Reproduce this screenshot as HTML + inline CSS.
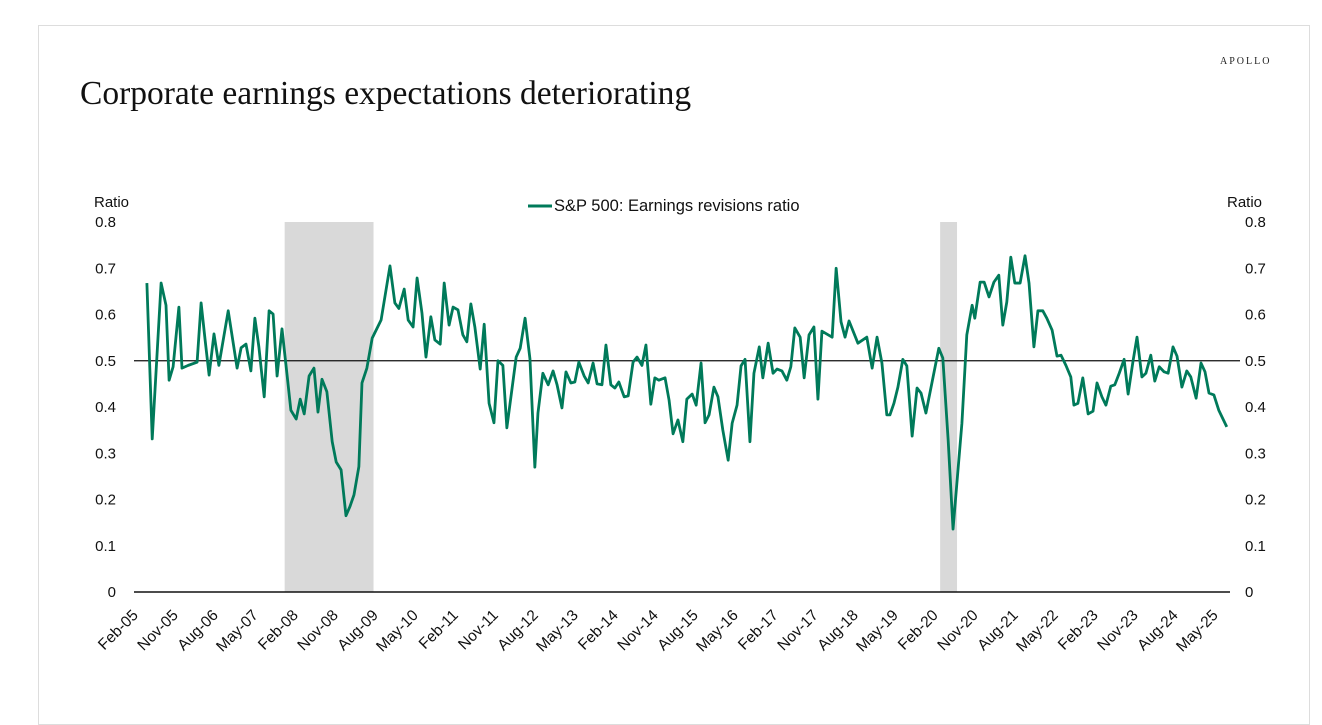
<!DOCTYPE html>
<html><head><meta charset="utf-8"><style>
body{margin:0;background:#fff;width:1322px;height:692px;overflow:hidden;font-family:"Liberation Sans",sans-serif}
#card{position:absolute;left:38px;top:25px;width:1272px;height:700px;border:1px solid #ddd;box-sizing:border-box}
</style></head><body>
<div id="card"></div>
<svg id="chart" width="1322" height="692" style="position:absolute;left:0;top:0">
<text x="1220" y="64" font-family="Liberation Serif, serif" font-size="10" letter-spacing="2" fill="#222">APOLLO</text>
<text x="80" y="104" font-family="Liberation Serif, serif" font-size="33.5" fill="#111">Corporate earnings expectations deteriorating</text>
<text x="94" y="207" font-size="15" fill="#111">Ratio</text>
<text x="1227" y="207" font-size="15" fill="#111">Ratio</text>
<line x1="528" y1="206" x2="552" y2="206" stroke="#007a5a" stroke-width="3"/>
<text x="554" y="211" font-size="16.5" fill="#111">S&amp;P 500: Earnings revisions ratio</text>
<g id="g"></g>
</svg>
<script>
const months=[0.2,1.4,3.4,4.5,5.2,6.1,7.4,8.1,9.5,11.5,12.4,13.3,14.2,15.3,16.4,18.5,20.5,21.4,22.5,23.6,24.5,25.4,26.6,27.7,28.6,29.5,30.6,31.7,32.6,33.8,34.7,35.6,36.7,37.8,38.7,39.6,40.7,41.9,42.8,43.9,45,45.9,46.8,47.9,48.6,49.7,50.9,52.9,54.9,56,56.9,58.1,59,60.1,61,62.1,63,64.1,65,66.2,67.1,68.2,69.1,70.2,71.3,72.2,73.1,74,75.2,76.1,77.2,78.3,79.2,80.3,81.2,83.3,84.2,85.3,86.4,87.5,88.2,89.3,90.5,91.6,92.5,93.6,94.5,95.6,96.5,97.4,98.6,99.5,100.6,101.5,102.6,103.5,104.6,105.5,106.4,107.6,108.5,109.6,110.5,111.6,112.5,113.6,114.5,115.4,116.8,117.7,118.6,119.7,120.8,121.7,122.9,123.8,124.9,125.8,126.7,127.8,128.7,129.8,131,131.9,133,133.9,134.8,135.9,136.8,138,138.8,140,141.1,142,143.1,144.2,145.1,146,147.2,148.1,149.2,150.3,151.2,152.1,154.4,155.3,156.4,157.3,158.2,160.2,162.2,163.4,164.5,165.6,166.7,167.4,168.3,169.2,170.3,171.2,172.4,173.5,174.4,175.5,178.4,179.3,180.5,181.6,183.6,184.7,185.9,186.5,187.7,188.6,189.7,190.8,191.9,192.8,193.7,194.6,195.5,196.7,197.8,198.7,199.8,200.7,201.8,202.7,203.9,205,205.9,207,208.1,208.8,209.7,210.8,212,213.1,214,215.1,216,217.1,218,219,220.1,221,222.1,223,224.1,225,226.1,227,228,229.1,230,231.1,232,233.1,234.2,235.1,236.3,237.4,238.3,239.2,240.3,241.4,243.2];
const values=[0.668,0.331,0.668,0.62,0.458,0.487,0.616,0.484,0.49,0.497,0.625,0.545,0.469,0.558,0.49,0.608,0.484,0.528,0.536,0.478,0.592,0.53,0.422,0.608,0.601,0.467,0.569,0.473,0.393,0.374,0.417,0.385,0.467,0.484,0.389,0.46,0.433,0.325,0.281,0.264,0.165,0.185,0.21,0.271,0.452,0.484,0.549,0.588,0.705,0.625,0.613,0.655,0.588,0.573,0.679,0.603,0.508,0.595,0.545,0.536,0.668,0.577,0.616,0.61,0.556,0.541,0.623,0.573,0.482,0.579,0.408,0.366,0.5,0.49,0.355,0.508,0.527,0.592,0.504,0.27,0.387,0.473,0.448,0.478,0.448,0.398,0.476,0.452,0.454,0.497,0.467,0.452,0.495,0.45,0.448,0.534,0.448,0.441,0.454,0.422,0.424,0.497,0.508,0.49,0.534,0.406,0.463,0.458,0.463,0.415,0.342,0.372,0.325,0.417,0.428,0.404,0.495,0.366,0.383,0.443,0.422,0.35,0.285,0.365,0.404,0.489,0.503,0.325,0.473,0.53,0.463,0.538,0.473,0.482,0.478,0.458,0.487,0.571,0.551,0.463,0.556,0.573,0.417,0.564,0.551,0.7,0.584,0.551,0.586,0.538,0.551,0.484,0.551,0.495,0.383,0.383,0.408,0.443,0.503,0.489,0.337,0.441,0.43,0.387,0.527,0.506,0.329,0.136,0.365,0.556,0.62,0.592,0.67,0.67,0.638,0.67,0.685,0.577,0.627,0.724,0.668,0.668,0.727,0.668,0.53,0.608,0.608,0.592,0.566,0.51,0.512,0.49,0.465,0.404,0.408,0.463,0.385,0.391,0.452,0.422,0.404,0.445,0.448,0.473,0.503,0.428,0.499,0.551,0.465,0.473,0.512,0.456,0.487,0.476,0.473,0.53,0.51,0.443,0.478,0.465,0.419,0.495,0.476,0.43,0.426,0.393,0.357];
const recessionStart=[31.2,178.7];
const recessionEnd=[51.2,182.5];
const yTicks=[0,0.1,0.2,0.3,0.4,0.5,0.6,0.7,0.8];
const xTickLabels=["Feb-05","Nov-05","Aug-06","May-07","Feb-08","Nov-08","Aug-09","May-10","Feb-11","Nov-11","Aug-12","May-13","Feb-14","Nov-14","Aug-15","May-16","Feb-17","Nov-17","Aug-18","May-19","Feb-20","Nov-20","Aug-21","May-22","Feb-23","Nov-23","Aug-24","May-25"];
const NS="http://www.w3.org/2000/svg",g=document.getElementById('g');
const X=m=>146+m*4.444, Y=v=>592-v*462.5;
function mk(t,a){const e=document.createElementNS(NS,t);for(const k in a)e.setAttribute(k,a[k]);g.appendChild(e);return e;}
recessionStart.forEach((s,i)=>{const r=mk('rect',{x:X(s),y:Y(0.8),width:X(recessionEnd[i])-X(s),height:Y(0)-Y(0.8),fill:'#d9d9d9'});

});
yTicks.forEach(v=>{const a=mk('text',{x:116,y:Y(v)+5,'text-anchor':'end','font-size':15,fill:'#111'});a.textContent=String(v);


const b=mk('text',{x:1245,y:Y(v)+5,'font-size':15,fill:'#111'});b.textContent=String(v);

});
const z=mk('line',{x1:134,x2:1230,y1:Y(0),y2:Y(0),stroke:'#111','stroke-width':1.5});


const h=mk('line',{x1:134,x2:1240,y1:Y(0.5),y2:Y(0.5),stroke:'#111','stroke-width':1.2});


xTickLabels.forEach((l,i)=>{const x=X(i*9)-7,y=616;const t=mk('text',{x:x,y:y,'text-anchor':'end','font-size':15.5,fill:'#111',transform:`rotate(-45 ${x} ${y})`});t.textContent=l;

});
const p=mk('polyline',{points:months.map((m,i)=>X(m)+','+Y(values[i])).join(' '),fill:'none',stroke:'#007a5a','stroke-width':2.8,'stroke-linejoin':'round'});


</script>
</body></html>
